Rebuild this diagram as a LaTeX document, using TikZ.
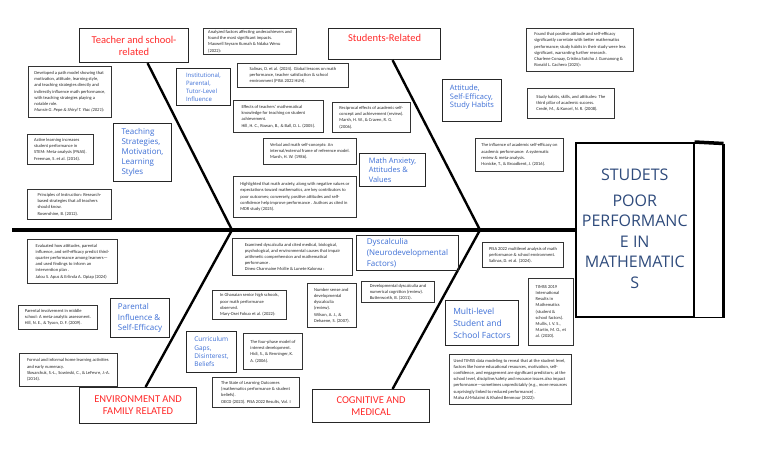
\documentclass[tikz,border=0pt]{standalone}
\usepackage{fontspec}
\setmainfont{Carlito}
\newfontfamily\opensans{Open Sans}
\definecolor{causeblue}{HTML}{3D6FD6}
\definecolor{catred}{HTML}{FF2A2A}
\definecolor{headblue}{HTML}{2F4B7C}
\begin{document}
\begin{tikzpicture}[x=1pt,y=-1pt,
 refbox/.style={draw=black!80, line width=0.9pt, anchor=north west, align=left, inner xsep=2pt, inner ysep=1pt, font=\fontsize{4.5}{6.2}\selectfont, text=black!85},
 catbox/.style={draw=black!85, line width=1.1pt, anchor=north west, align=center, text=catred, font=\fontsize{10.5}{12}\selectfont, inner sep=1pt},
 causebox/.style={draw=black!85, line width=1pt, anchor=north west, align=left, text=causeblue, inner xsep=3pt, inner ysep=1pt},
 bone/.style={line width=2.4pt, black},
]
\useasboundingbox (0,0) rectangle (768,466);
\fill[white] (0,0) rectangle (768,466);

% head box
\node[draw, line width=1.5pt, minimum width=118pt, minimum height=174pt, anchor=north west, inner sep=0pt,
  font=\opensans\fontsize{16}{20.5}\selectfont, text=headblue, align=center] (head) at (575,142)
  {\mbox{}\\[-10.5pt]STUDETS\\[5pt]POOR\\PERFORMANC\\E IN\\MATHEMATIC\\S};
\coordinate (fr) at (723.5,143.5);
\draw[line width=1.2pt] (head.south east) -- (fr |- head.south);
\draw[line width=3.5pt] (head.north east) -- (fr);
\draw[line width=2.5pt] (fr) -- (fr |- head.south);

% spine
\coordinate (tail) at (12,230);
\coordinate (s1) at (232,230);
\coordinate (s2) at (480,230);
\draw[line width=4pt] (tail) -- (tail -| head.west);

% category boxes
\node[catbox, minimum width=109pt, minimum height=34pt] (c1) at (79,28) {Teacher and school-\\related};
\node[catbox, minimum width=112pt, minimum height=31pt] (c2) at (328,28) {Students-Related\\~};
\node[catbox, minimum width=117pt, minimum height=36pt] (c3) at (79,387) {ENVIRONMENT AND\\FAMILY RELATED};
\node[catbox, minimum width=117pt, minimum height=33pt] (c4) at (312,389) {COGNITIVE AND\\MEDICAL};

% bones
\draw[bone] ([xshift=13.5pt]c1.south) -- (s1);
\draw[bone] ([xshift=8pt]c2.south) -- (s2);
\draw[bone] (s1) -- ([xshift=7.5pt]c3.north);
\draw[bone] (s2) -- ([xshift=21.5pt]c4.north);

% cause boxes
\node[causebox, minimum width=54pt, minimum height=37pt, font=\opensans\fontsize{6}{8}\selectfont] (b1) at (176,68) {Institutional,\\Parental,\\Tutor-Level\\Influence};
\node[causebox, minimum width=58pt, minimum height=58pt, font=\opensans\fontsize{8}{10}\selectfont] (b2) at (113,123) {Teaching\\Strategies,\\Motivation,\\Learning\\Styles};
\node[causebox, minimum width=59pt, minimum height=42pt, font=\opensans\fontsize{7.5}{8.5}\selectfont] (b3) at (442,79) {Attitude,\\Self-Efficacy,\\Study Habits\\~};
\node[causebox, minimum width=66pt, minimum height=33pt, font=\opensans\fontsize{7.5}{9.3}\selectfont] (b4) at (359,153) {Math Anxiety,\\Attitudes \&\\Values};
\node[causebox, minimum width=59pt, minimum height=39pt, font=\opensans\fontsize{8}{10.5}\selectfont] (b5) at (110,298) {Parental\\Influence \&\\Self-Efficacy};
\node[causebox, minimum width=50pt, minimum height=41pt, font=\opensans\fontsize{6.5}{8.3}\selectfont] (b6) at (186,331) {Curriculum\\Gaps,\\Disinterest,\\Beliefs};
\node[causebox, minimum width=102pt, minimum height=35pt, font=\opensans\fontsize{8}{11}\selectfont] (b7) at (356,235) {Dyscalculia\\(Neurodevelopmental\\Factors)};
\node[causebox, minimum width=73pt, minimum height=45pt, font=\opensans\fontsize{8.5}{12}\selectfont] (b8) at (445,300) {Multi-level\\Student and\\School Factors};

% reference boxes
\node[refbox, minimum width=83pt, minimum height=51pt] (r1) at (28,66) {Developed a path model showing that\\motivation, attitude, learning style,\\and teaching strategies directly and\\indirectly influence math performance,\\with teaching strategies playing a\\notable role.\\\textit{Munsie G. Pepe \& Shiryl T. Ytac (2021):}};
\node[refbox, minimum width=66pt, minimum height=30pt] (r2) at (27,134) {Active learning increases\\student performance in\\STEM: Meta-analysis (PNAS).\\Freeman, S. et al. (2014).};
\node[refbox, minimum width=84pt, minimum height=30pt] (r3) at (27,189) {Principles of Instruction: Research-\\based strategies that all teachers\\should know.\\Rosenshine, B. (2012).};
\node[refbox, minimum width=93pt, minimum height=26pt] (r4) at (203,28) {Analyzed factors affecting underachievers and\\found the most significant impacts.\\Maxwell Seyram Kumah \& Ndaka Wenu\\(2022):};
\node[refbox, minimum width=111pt, minimum height=24pt] (r5) at (237,63) {Salinas, D. et al. (2024). Global lessons on math\\performance, teacher satisfaction \& school\\environment (PISA 2022 HLM).};
\node[refbox, minimum width=90pt, minimum height=32pt] (r6) at (233,100) {Effects of teachers' mathematical\\knowledge for teaching on student\\achievement.\\Hill, H. C., Rowan, B., \& Ball, D. L. (2005).};
\node[refbox, minimum width=78pt, minimum height=30pt] (r7) at (332,102) {Reciprocal effects of academic self-\\concept and achievement (review).\\Marsh, H. W., \& Craven, R. G.\\(2006).};
\node[refbox, minimum width=93pt, minimum height=26pt] (r8) at (263,138) {Verbal and math self-concepts: An\\internal/external frame of reference model.\\Marsh, H. W. (1986).};
\node[refbox, minimum width=123pt, minimum height=41pt] (r9) at (233,176) {Highlighted that math anxiety, along with negative values or\\expectations toward mathematics, are key contributors to\\poor outcomes; conversely, positive attitudes and self-\\confidence help improve performance . Authors as cited in\\MDR study (2025).};
\node[refbox, minimum width=107pt, minimum height=43pt] (r10) at (526,28) {Found that positive attitude and self-efficacy\\significantly correlate with better mathematics\\performance; study habits in their study were less\\significant, warranting further research.\\Charlene Conaay, Cristina Sotcho J. Gumanong \&\\Ronald L. Cachero (2025):};
\node[refbox, minimum width=87pt, minimum height=30pt] (r11) at (527,88) {Study habits, skills, and attitudes: The\\third pillar of academic success.\\Credé, M., \& Kuncel, N. R. (2008).};
\node[refbox, minimum width=88pt, minimum height=33pt] (r12) at (475,138) {The influence of academic self-efficacy on\\academic performance: A systematic\\review \& meta-analysis.\\Honicke, T., \& Broadbent, J. (2016).};
\node[refbox, minimum width=90pt, minimum height=44pt] (r13) at (27,239) {Evaluated how attitudes, parental\\influence, and self-efficacy predict third-\\quarter performance among learners---\\and used findings to inform an\\intervention plan .\\Jalou S. Apus \& Erlinda A. Opiap (2024)};
\node[refbox, minimum width=79pt, minimum height=24pt] (r14) at (18,305) {Parental involvement in middle\\school: A meta-analytic assessment.\\Hill, N. E., \& Tyson, D. F. (2009).};
\node[refbox, minimum width=98pt, minimum height=33pt] (r15) at (19,353) {Formal and informal home learning activities\\and early numeracy.\\Skwarchuk, S.-L., Sowinski, C., \& LeFevre, J.-A.\\(2014).};
\node[refbox, minimum width=120pt, minimum height=37pt] (r16) at (232,238) {Examined dyscalculia and cited medical, biological,\\psychological, and environmental causes that impair\\arithmetic comprehension and mathematical\\performance .\\Dineo Charmaine Mollie \& Lunete Kalonna :};
\node[refbox, minimum width=74pt, minimum height=29pt] (r17) at (212,290) {In Ghanaian senior high schools,\\poor math performance\\observed.\\Mary-Osei Fokuo et al. (2022):};
\node[refbox, minimum width=49pt, minimum height=44pt] (r18) at (307,283) {Number sense and\\developmental\\dyscalculia\\(review).\\Wilson, A. J., \&\\Dehaene, S. (2007).};
\node[refbox, minimum width=73pt, minimum height=21pt] (r19) at (361,281) {Developmental dyscalculia and\\numerical cognition (review).\\Butterworth, B. (2011).};
\node[refbox, minimum width=59pt, minimum height=36pt] (r20) at (243,333) {The four-phase model of\\interest development.\\Hidi, S., \& Renninger, K.\\A. (2006).};
\node[refbox, minimum width=87pt, minimum height=30pt] (r21) at (212,377) {The State of Learning Outcomes\\(mathematics performance \& student\\beliefs).\\OECD (2023). PISA 2022 Results, Vol. I};
\node[refbox, minimum width=81pt, minimum height=25pt] (r22) at (482,242) {PISA 2022 multilevel analysis of math\\performance \& school environment.\\Salinas, D. et al. (2024).};
\node[refbox, minimum width=45pt, minimum height=67pt] (r23) at (528,278) {TIMSS 2019\\International\\Results in\\Mathematics\\(student \&\\school factors).\\Mullis, I. V. S.,\\Martin, M. O., et\\al. (2020).};
\node[refbox, minimum width=122pt, minimum height=50pt] (r24) at (449,354) {Used TIMSS data modeling to reveal that at the student level,\\factors like home educational resources, motivation, self-\\confidence, and engagement are significant predictors; at the\\school level, discipline/safety and resource issues also impact\\performance---sometimes unpredictably (e.g., more resources\\surprisingly linked to reduced performance) .\\Maha Al-Mulaimi \& Khaled Benmour (2022):};
\end{tikzpicture}
\end{document}
